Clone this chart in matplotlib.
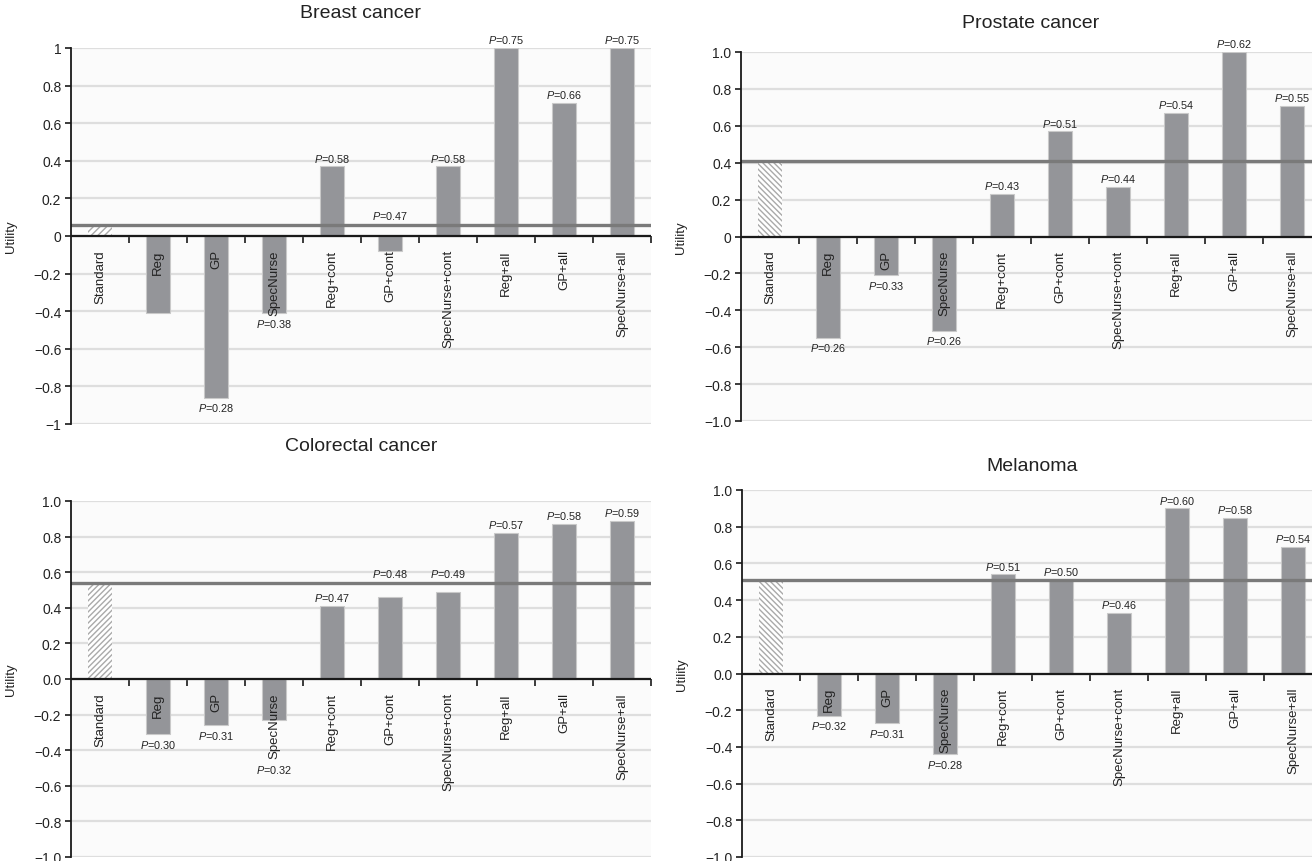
import matplotlib
matplotlib.use("Agg")
import matplotlib.pyplot as plt
from matplotlib.ticker import FixedLocator, FuncFormatter

plt.rcParams['font.family'] = ['Liberation Sans', 'DejaVu Sans']
plt.rcParams['mathtext.fontset'] = 'custom'
plt.rcParams['mathtext.it'] = 'Liberation Sans:italic'
plt.rcParams['mathtext.rm'] = 'Liberation Sans'
plt.rcParams['hatch.linewidth'] = 1.0

# ---------------- data ----------------
categories = ["Standard", "Reg", "GP", "SpecNurse", "Reg+cont", "GP+cont",
              "SpecNurse+cont", "Reg+all", "GP+all", "SpecNurse+all"]

breast_util = [0.06, -0.41, -0.86, -0.41, 0.37, -0.08, 0.37, 1.00, 0.71, 1.00]
breast_p = [None, None, "0.28", "0.38", "0.58", "0.47", "0.58", "0.75", "0.66", "0.75"]

prostate_util = [0.41, -0.55, -0.21, -0.51, 0.23, 0.57, 0.27, 0.67, 1.00, 0.71]
prostate_p = [None, "0.26", "0.33", "0.26", "0.43", "0.51", "0.44", "0.54", "0.62", "0.55"]

colorectal_util = [0.54, -0.31, -0.26, -0.23, 0.41, 0.46, 0.49, 0.82, 0.87, 0.89]
colorectal_p = [None, "0.30", "0.31", "0.32", "0.47", "0.48", "0.49", "0.57", "0.58", "0.59"]

melanoma_util = [0.51, -0.23, -0.27, -0.44, 0.54, 0.51, 0.33, 0.90, 0.85, 0.69]
melanoma_p = [None, "0.32", "0.31", "0.28", "0.51", "0.50", "0.46", "0.60", "0.58", "0.54"]

yticks = [-1.0, -0.8, -0.6, -0.4, -0.2, 0.0, 0.2, 0.4, 0.6, 0.8, 1.0]

# ---------------- layout ----------------
W, H = 1312, 862
fig = plt.figure(figsize=(W / 100, H / 100), dpi=100)

BAR = '#949599'
BAR_EDGE = '#c9c9c9'
REF = '#7a7a7a'
GRID = '#dedede'
TEXT = '#222222'

panels = [
    # title, util, p, rect px (left, top, width, bottom), title y px, hatch, tick style, label overrides
    dict(title="Breast cancer", util=breast_util, p=breast_p,
         rect=(71, 49, 580, 425), ty=14, hatch='/////', fmt='int',
         above_ref={"GP+cont"}, below_text=set()),
    dict(title="Prostate cancer", util=prostate_util, p=prostate_p,
         rect=(741, 53, 580, 422), ty=24, hatch='\\\\\\\\\\\\', fmt='zero',
         above_ref=set(), below_text=set()),
    dict(title="Colorectal cancer", util=colorectal_util, p=colorectal_p,
         rect=(71, 502, 580, 858), ty=447, hatch='//////', fmt='dec',
         above_ref={"GP+cont", "SpecNurse+cont"}, below_text={"SpecNurse"}),
    dict(title="Melanoma", util=melanoma_util, p=melanoma_p,
         rect=(742, 491, 580, 858), ty=467, hatch='\\\\\\\\\\\\', fmt='dec',
         above_ref=set(), below_text=set()),
]


def make_fmt(kind):
    def f(v, pos):
        if abs(v) < 1e-9:
            return "0" if kind in ('int', 'zero') else "0.0"
        if kind == 'int' and abs(abs(v) - 1) < 1e-9:
            s = "%d" % round(v)
        else:
            s = "%.1f" % v
        return s.replace('-', '\u2212')
    return f


for pnl in panels:
    l, t, w, b = pnl['rect']
    ax = fig.add_axes([l / W, (H - b) / H, w / W, (b - t) / H])
    ax.set_facecolor('#fbfbfb')
    n = len(categories)
    x = list(range(n))
    util = pnl['util']
    ref = util[0]

    ax.set_xlim(-0.5, n - 0.5)
    ax.set_ylim(-1, 1)

    # grid
    ax.yaxis.set_major_locator(FixedLocator(yticks))
    ax.yaxis.set_major_formatter(FuncFormatter(make_fmt(pnl['fmt'])))
    ax.grid(axis='y', color=GRID, linewidth=1.6, zorder=0)
    ax.set_axisbelow(True)

    # bars
    ax.bar(x[0], util[0], width=0.4, facecolor='white', edgecolor='#a9a9a9',
           hatch=pnl['hatch'], linewidth=0, zorder=2)
    ax.bar(x[1:], util[1:], width=0.4, color=BAR, edgecolor=BAR_EDGE,
           linewidth=0.8, zorder=2)

    # reference line at Standard utility
    ax.axhline(ref, color=REF, linewidth=2.4, zorder=3)
    # zero line
    ax.axhline(0, color='#1a1a1a', linewidth=1.6, zorder=4)

    # spines
    for s in ('top', 'right'):
        ax.spines[s].set_visible(False)
    ax.spines['bottom'].set_position(('data', 0))
    ax.spines['bottom'].set_visible(False)
    ax.spines['left'].set_color('#1a1a1a')
    ax.spines['left'].set_linewidth(1.3)
    ax.spines['left'].set_zorder(5)

    ax.xaxis.set_major_locator(FixedLocator([i + 0.5 for i in range(n)]))
    ax.tick_params(axis='x', direction='out', length=5, width=1.2,
                   color='#1a1a1a', labelbottom=False)
    ax.tick_params(axis='y', direction='out', length=4, width=1.2,
                   color='#1a1a1a', labelsize=10, labelcolor=TEXT, pad=3)

    # category labels (rotated, hanging below the zero line)
    tick_texts = {}
    for i, c in enumerate(categories):
        tt = ax.annotate(c, xy=(i, 0), xycoords='data', xytext=(0, -9.5),
                         textcoords='offset points', rotation=90,
                         ha='center', va='top', fontsize=9.5, color=TEXT,
                         zorder=6, annotation_clip=False)
        tick_texts[c] = tt

    # P labels
    for i, c in enumerate(categories):
        pv = pnl['p'][i]
        if pv is None:
            continue
        lab = "$P$=" + pv
        v = util[i]
        if c in pnl['above_ref']:
            ax.annotate(lab, xy=(i, max(ref, v)), xytext=(0, 2.5),
                        textcoords='offset points', ha='center', va='bottom',
                        fontsize=7.8, color=TEXT, zorder=6)
        elif c in pnl['below_text']:
            ax.annotate(lab, xy=(0.5, 0), xycoords=tick_texts[c],
                        xytext=(0, -4), textcoords='offset points',
                        ha='center', va='top', fontsize=7.8, color=TEXT,
                        zorder=6)
        elif v >= 0:
            ax.annotate(lab, xy=(i, v), xytext=(0, 2),
                        textcoords='offset points', ha='center', va='bottom',
                        fontsize=7.8, color=TEXT, zorder=6)
        else:
            ax.annotate(lab, xy=(i, v), xytext=(0, -2.5),
                        textcoords='offset points', ha='center', va='top',
                        fontsize=7.8, color=TEXT, zorder=6)

    ax.set_ylabel("Utility", fontsize=9.5, color=TEXT)
    ax.yaxis.set_label_coords(-0.093, 0.5)

    # panel title
    fig.text((l + w / 2) / W, 1 - pnl['ty'] / H, pnl['title'], ha='center',
             va='center', fontsize=14, color=TEXT)

fig.savefig("out.png", dpi=100, facecolor='white')
